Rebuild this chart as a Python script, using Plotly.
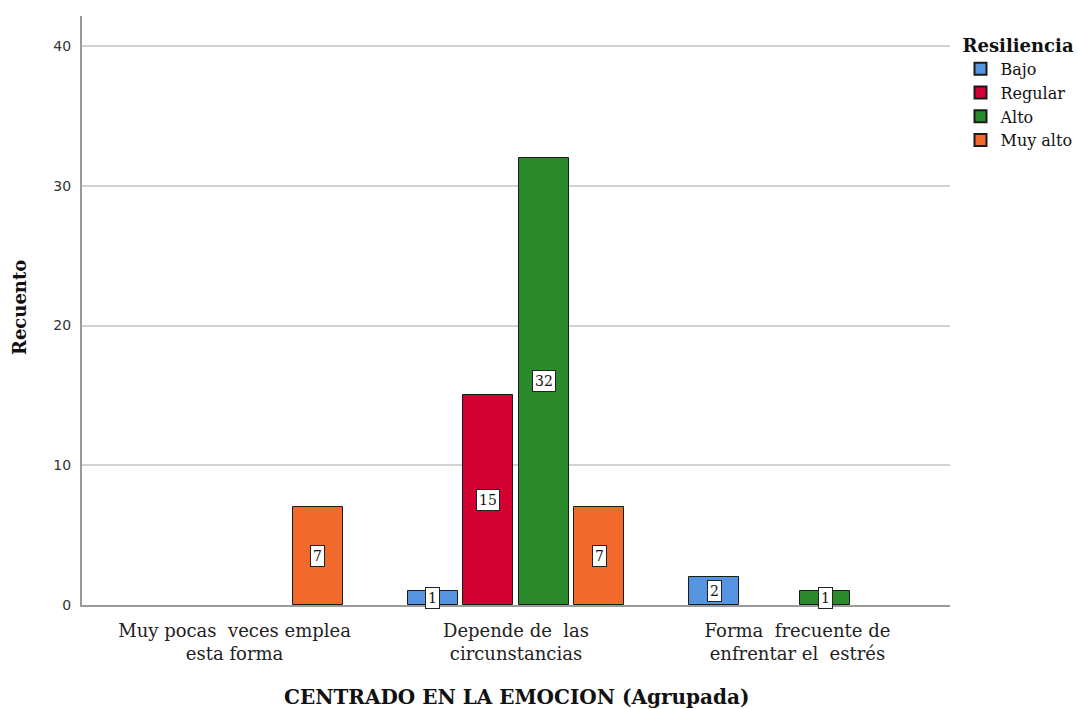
import plotly.graph_objects as go

# Counts by coping category (x) and resilience level (series)
categories = ["Muy pocas  veces emplea<br>esta forma",
              "Depende de  las<br>circunstancias",
              "Forma  frecuente de<br>enfrentar el  estrés"]
series_names = ["Bajo", "Regular", "Alto", "Muy alto"]
bajo = [0, 1, 2]
regular = [0, 15, 0]
alto = [0, 32, 1]
muy_alto = [7, 7, 0]
y_ticks = [0, 10, 20, 30, 40]

series_values = [bajo, regular, alto, muy_alto]
colors = ["#5594e0", "#d50032", "#2b8a2b", "#f1692b"]

serif = "DejaVu Serif, Liberation Serif, serif"

# Group geometry in data units (group centres at 0, 1, 2)
group_span = 0.79
slot = group_span / len(series_names)
bar_w = slot * 0.9

fig = go.Figure()
annotations = []
for k, (name, vals, col) in enumerate(zip(series_names, series_values, colors)):
    offset = -group_span / 2 + k * slot + (slot - bar_w) / 2
    xs = list(range(len(categories)))
    # empty cells are not drawn at all
    ys = [v if v > 0 else None for v in vals]
    fig.add_trace(go.Bar(
        x=xs, y=ys, name=name, width=bar_w, offset=offset,
        marker=dict(color=col, line=dict(color="#1a1a1a", width=1)),
        hoverinfo="name+y",
    ))
    for i, v in enumerate(vals):
        if v > 0:
            annotations.append(dict(
                x=i + offset + bar_w / 2, y=v / 2, xref="x", yref="y",
                text=str(v), showarrow=False,
                font=dict(family=serif, size=14, color="#111"),
                bgcolor="white", bordercolor="#222", borderwidth=1, borderpad=2,
            ))

annotations.append(dict(
    text="<b>Recuento</b>", textangle=-90, x=-0.072, xref="paper", xanchor="center",
    y=0.505, yref="paper", yanchor="middle", showarrow=False,
    font=dict(family=serif, size=18, color="#111"),
))
annotations.append(dict(
    text="<b>CENTRADO EN LA EMOCION (Agrupada)</b>", x=0.5, xref="paper",
    y=-0.157, yref="paper", yanchor="middle", showarrow=False,
    font=dict(family=serif, size=20, color="#111"),
))

fig.update_layout(
    width=1078, height=709,
    margin=dict(l=82, r=128, t=16, b=104, autoexpand=False),
    paper_bgcolor="white", plot_bgcolor="white",
    showlegend=True,
    legend=dict(
        title=dict(text="<b>Resiliencia</b>",
                   font=dict(family=serif, size=18, color="#111")),
        xref="container", x=0.891, xanchor="left",
        yref="container", y=0.96, yanchor="top",
        font=dict(family=serif, size=16, color="#111"),
        tracegroupgap=0, itemsizing="constant", itemwidth=30,
    ),
    annotations=annotations,
    bargap=0, bargroupgap=0,
)
fig.update_xaxes(
    range=[-0.542, 2.542], tickvals=list(range(len(categories))), ticktext=categories,
    showline=True, linecolor="#9a9a9a", linewidth=2, showgrid=False, zeroline=False,
    ticks="outside", ticklen=8, tickcolor="rgba(0,0,0,0)",
    tickfont=dict(family=serif, size=18, color="#222"),
)
fig.update_yaxes(
    range=[0, 42.15], tickvals=y_ticks,
    showline=True, linecolor="#9a9a9a", linewidth=2,
    showgrid=True, gridcolor="#d2d2d2", gridwidth=1.5, zeroline=False,
    ticks="outside", ticklen=6, tickcolor="rgba(0,0,0,0)",
    tickfont=dict(family="DejaVu Sans, sans-serif", size=14, color="#333"),
)

fig.write_html("out.html")
